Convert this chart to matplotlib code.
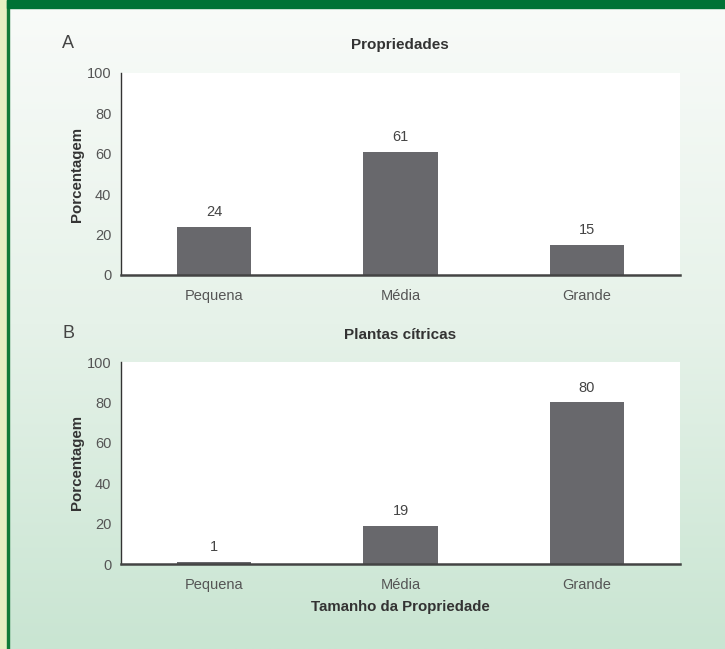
import numpy as np
import matplotlib
matplotlib.use("Agg")
import matplotlib.pyplot as plt
from matplotlib.colors import LinearSegmentedColormap
from matplotlib.patches import Rectangle

plt.rcParams['font.family'] = ['Liberation Sans', 'DejaVu Sans']

# Data
categories = ["Pequena", "Média", "Grande"]
propriedades = [24, 61, 15]
plantas_citricas = [1, 19, 80]
yticks = [0, 20, 40, 60, 80, 100]

W, H = 725, 649
fig = plt.figure(figsize=(W / 100, H / 100), dpi=100)

# Background: soft green vertical gradient
bg = fig.add_axes([0, 0, 1, 1], zorder=-10)
cmap = LinearSegmentedColormap.from_list("bg", ["#f9fbf9", "#e6f2e9", "#c9e5d2"])
grad = np.linspace(0, 1, 256).reshape(-1, 1)
bg.imshow(grad, aspect="auto", cmap=cmap, extent=[0, W, H, 0])
bg.set_xlim(0, W)
bg.set_ylim(H, 0)
bg.axis("off")
# left side strip and border, header band
bg.add_patch(Rectangle((0, 0), 7, H, color="#e7efc2", zorder=2))
bg.add_patch(Rectangle((7, 0), 2.5, H, color="#127a38", zorder=3))
bg.add_patch(Rectangle((7, 0), W - 7, 8, color="#007236", zorder=3))

bar_color = "#68686c"
text_color = "#444444"


def px_axes(left, right, top, bottom):
    return fig.add_axes([left / W, 1 - bottom / H, (right - left) / W, (bottom - top) / H])


def panel(ax, values, title, letter, title_y, show_xlabel=False):
    x = np.arange(len(categories))
    bars = ax.bar(x, values, width=0.4, color=bar_color, zorder=2)
    for b, v in zip(bars, values):
        ax.annotate(str(v), (b.get_x() + b.get_width() / 2, v), xytext=(0, 5.5),
                    textcoords="offset points", ha="center", va="bottom",
                    fontsize=10.5, color=text_color)
    ax.set_xlim(-0.5, 2.5)
    ax.set_ylim(0, 100)
    ax.set_yticks(yticks)
    ax.set_xticks(x)
    ax.set_xticklabels(categories)
    ax.tick_params(axis="both", length=0, labelsize=10.5, colors="#555555")
    ax.tick_params(axis="y", pad=7)
    ax.tick_params(axis="x", pad=10)
    ax.set_facecolor("white")
    for s in ["top", "right"]:
        ax.spines[s].set_visible(False)
    ax.spines["left"].set_color("#333333")
    ax.spines["left"].set_linewidth(1.0)
    ax.spines["bottom"].set_color("#444444")
    ax.spines["bottom"].set_linewidth(1.8)
    ax.set_ylabel("Porcentagem", fontsize=10.8, fontweight="bold", color="#333333", labelpad=2)
    fig.text(400 / W, 1 - title_y / H, title, ha="center", va="center",
             fontsize=11, fontweight="bold", color="#333333")
    fig.text(68 / W, 1 - (title_y - 2) / H, letter, ha="center", va="center",
             fontsize=13, color=text_color)
    if show_xlabel:
        ax.set_xlabel("Tamanho da Propriedade", fontsize=10.8, fontweight="bold",
                      color="#333333", labelpad=6)


axA = px_axes(121, 680, 73, 275)
panel(axA, propriedades, "Propriedades", "A", 45)

axB = px_axes(121, 680, 362, 564)
panel(axB, plantas_citricas, "Plantas cítricas", "B", 335, show_xlabel=True)

fig.savefig("out.png", dpi=100)
